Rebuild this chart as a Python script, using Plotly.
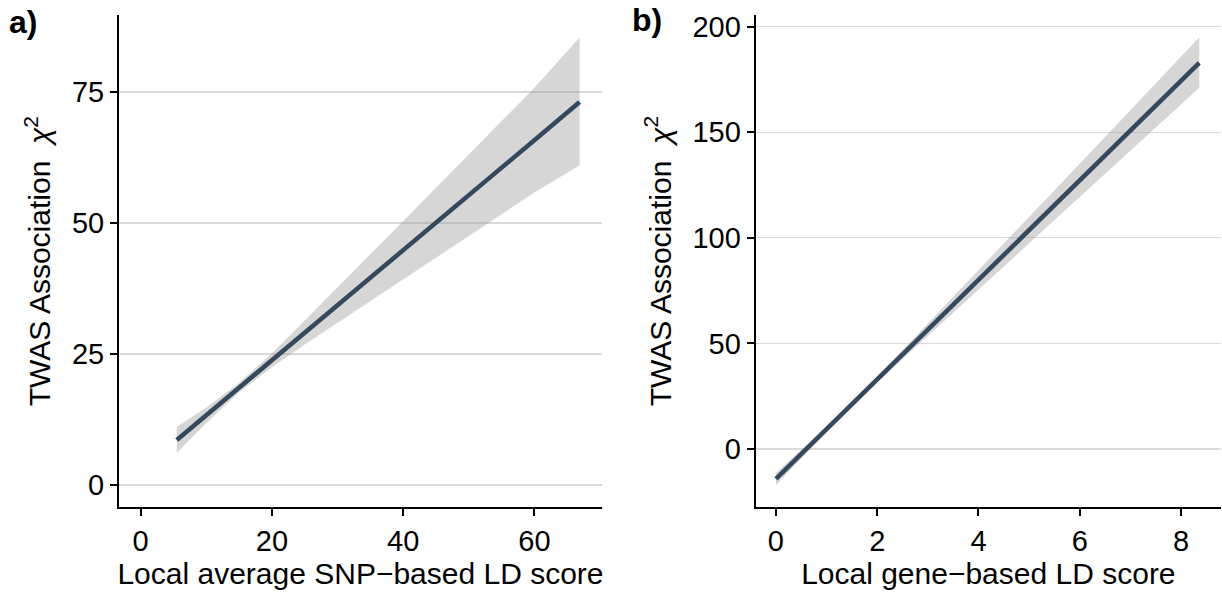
import plotly.graph_objects as go

# ---------------- data ----------------
# Panel a: Local average SNP-based LD score vs TWAS chi^2 (fitted line + 95% CI)
a_x = [5.5, 10, 15, 20, 25, 30, 40, 50, 60, 66.9]
a_fit = [8.6, 13.3, 18.6, 23.8, 29.1, 34.3, 44.8, 55.3, 65.8, 73.1]
a_upper = [11.05, 14.8, 19.5, 25.15, 31.4, 37.65, 50.35, 63.05, 75.8, 85.4]
a_lower = [6.15, 11.8, 17.7, 22.45, 26.8, 30.95, 39.25, 47.55, 55.8, 61.0]
a_xticks = [0, 20, 40, 60]
a_yticks = [0, 25, 50, 75]

# Panel b: Local gene-based LD score vs TWAS chi^2
b_x = [0, 1, 2, 3, 4, 5, 6, 7, 8.36]
b_fit = [-14.2, 9.4, 32.9, 56.5, 80.1, 103.6, 127.2, 150.8, 182.8]
b_upper = [-11.4, 10.7, 34.2, 59.3, 84.6, 109.8, 135.1, 160.4, 194.9]
b_lower = [-17.0, 8.1, 31.6, 53.7, 75.6, 97.4, 119.3, 141.2, 171.0]
b_xticks = [0, 2, 4, 6, 8]
b_yticks = [0, 50, 100, 150, 200]

a_xtitle = "Local average SNP\u2212based LD score"
b_xtitle = "Local gene\u2212based LD score"
ytitle = "TWAS Association\u00a0 <i>\u03c7</i><sup>2</sup>"

# ---------------- styles ----------------
FONT = "Liberation Sans, Arial, Helvetica, sans-serif"
LINE_COLOR = "#34495E"
RIBBON = "rgba(153,153,153,0.4)"
GRID = "#DADADA"

fig = go.Figure()

def add_panel(xs, fit, up, lo, xa, ya):
    fig.add_trace(go.Scatter(
        x=list(xs) + list(xs)[::-1], y=list(up) + list(lo)[::-1],
        fill="toself", fillcolor=RIBBON, line=dict(width=0),
        mode="lines", hoverinfo="skip", showlegend=False,
        xaxis=xa, yaxis=ya))
    fig.add_trace(go.Scatter(
        x=xs, y=fit, mode="lines", line=dict(color=LINE_COLOR, width=4.5),
        showlegend=False, xaxis=xa, yaxis=ya))

add_panel(a_x, a_fit, a_upper, a_lower, "x", "y")
add_panel(b_x, b_fit, b_upper, b_lower, "x2", "y2")

tickfont = dict(family=FONT, size=29, color="black")
titlefont = dict(family=FONT, size=30, color="black")

def xaxis_cfg(domain, rng, ticks, title):
    return dict(domain=domain, range=rng, tickvals=ticks, ticktext=[str(t) for t in ticks],
                showgrid=False, zeroline=False, showline=True, linecolor="black", linewidth=2,
                ticks="outside", ticklen=7, tickwidth=2, tickcolor="black",
                tickfont=tickfont, title=dict(text=title, font=titlefont, standoff=6),
                fixedrange=True)

def yaxis_cfg(domain, rng, ticks, anchor):
    return dict(domain=domain, range=rng, tickvals=ticks, ticktext=[str(t) for t in ticks],
                showgrid=True, gridcolor=GRID, gridwidth=1.2, zeroline=False,
                showline=True, linecolor="black", linewidth=2,
                ticks="outside", ticklen=7, tickwidth=2, tickcolor="black",
                tickfont=tickfont, title=dict(text=ytitle, font=titlefont, standoff=12),
                anchor=anchor, fixedrange=True)

ydom = [0.146, 0.9748]
fig.update_layout(
    width=1222, height=594,
    margin=dict(l=0, r=0, t=0, b=0),
    paper_bgcolor="white", plot_bgcolor="white",
    template="none",
    font=dict(family=FONT, color="black"),
    xaxis=xaxis_cfg([0.0974, 0.4926], [-3.3, 70.3], a_xticks, a_xtitle) | dict(anchor="y"),
    yaxis=yaxis_cfg(ydom, [-4.25, 89.7], a_yticks, "x"),
    xaxis2=xaxis_cfg([0.6184, 0.9992], [-0.40, 8.79], b_xticks, b_xtitle) | dict(anchor="y2"),
    yaxis2=yaxis_cfg(ydom, [-27.6, 205.5], b_yticks, "x2"),
    annotations=[
        dict(text="<b>a)</b>", x=0.006, y=0.997, xref="paper", yref="paper",
             xanchor="left", yanchor="top", showarrow=False,
             font=dict(family=FONT, size=32, color="black")),
        dict(text="<b>b)</b>", x=0.5155, y=1.0, xref="paper", yref="paper",
             xanchor="left", yanchor="top", showarrow=False,
             font=dict(family=FONT, size=32, color="black")),
    ],
)

fig.write_html(
    "out.html",
    config={"displayModeBar": False, "staticPlot": True},
    post_script="document.body.style.margin='0px';document.body.style.overflow='hidden';",
)
